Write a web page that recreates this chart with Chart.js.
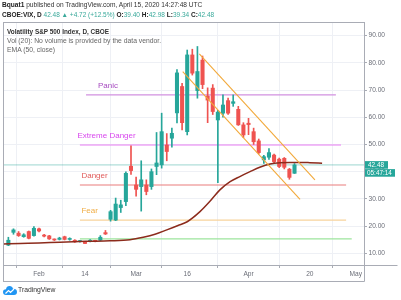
<!DOCTYPE html>
<html><head><meta charset="utf-8">
<script src="https://cdn.jsdelivr.net/npm/chart.js@4.4.0/dist/chart.umd.min.js"></script>
<style>
html,body{margin:0;padding:0;background:#fff;width:401px;height:300px;overflow:hidden;font-family:'Liberation Sans',Arial,sans-serif}
#wrap{position:absolute;left:0;top:0;width:401px;height:300px}
canvas{position:absolute;left:0;top:0}
.t{position:absolute;white-space:nowrap;line-height:1}
.g{color:#3aa99b}
b{color:#222}
</style></head><body>
<div id="wrap"><canvas id="c" width="401" height="300"></canvas>
<div class="t" style="left:2px;top:1.5px;font-size:6.6px;color:#333"><b>Bquat1</b> published on TradingView.com, April 15, 2020 14:27:48 UTC</div>
<div class="t" style="left:2px;top:12px;font-size:6.5px;color:#333"><b>CBOE:VIX, D</b> <span class="g">42.48 &#9650; +4.72 (+12.5%)</span> <b>O:</b><span class="g">39.40</span> <b>H:</b><span class="g">42.98</span> <b>L:</b><span class="g">39.34</span> <b>C:</b><span class="g">42.48</span></div>
<div class="t" style="left:7px;top:28.5px;font-size:6.4px;color:#333;font-weight:bold">Volatility S&amp;P 500 Index, D, CBOE</div>
<div class="t" style="left:7px;top:38px;font-size:6.8px;color:#666">Vol (20): No volume is provided by the data vendor.</div>
<div class="t" style="left:7px;top:47px;font-size:6.8px;color:#666">EMA (50, close)</div>
<svg style="position:absolute;left:3px;top:285px" width="14" height="10" viewBox="0 0 14 10"><path d="M3 10 Q0 10 0 7 Q0 4.5 3 4.3 Q3.5 1 6.5 1 Q9.3 1 10 3.8 Q14 3.8 14 7 Q14 10 11 10 Z" fill="#2196f3"/><path d="M2.5 8.5 L5.5 5.5 L7.5 7.5 L11 4" stroke="#fff" stroke-width="1.2" fill="none"/></svg>
<div class="t" style="left:18px;top:286.5px;font-size:6.8px;color:#333">TradingView</div>
</div>
<script>
// ---- data ----
const dayIndex = [-6,-5,-4,-3,-2,-1,0,1,2,3,4,5,6,7,8,9,10,11,12,13,14,15,16,17,18,19,20,21,22,23,24,25,26,27,28,29,30,31,32,33,34,35,36,37,38,39,40,41,42,43,44,45,46,47,48,49,50];
const opens  = [13.0,17.7,17.4,16.1,18.0,16.5,19.0,16.7,16.4,15.1,15.1,16.1,15.1,14.8,14.3,14.2,14.4,14.6,14.8,17.6,22.5,22.2,26.8,29.0,42.0,35.1,34.5,35.1,34.5,41.9,42.5,49.8,52.3,61.6,71.3,54.7,82.9,69.8,81.0,67.8,70.7,59.0,61.5,66.1,65.1,62.9,57.2,57.8,54.7,51.3,44.3,45.3,46.1,44.6,44.9,40.9,39.40];
const highs  = [15.9,19.0,18.0,17.2,18.2,19.8,19.3,17.0,16.6,15.3,15.9,16.3,15.7,15.0,14.8,14.4,15.0,14.8,16.5,18.4,25.8,30.3,29.5,39.9,49.5,38.0,44.0,37.0,41.0,54.4,61.5,54.0,56.0,77.5,72.5,84.7,85.0,86.0,82.5,70.8,72.0,62.5,68.2,67.0,68.2,64.0,58.0,59.6,56.0,52.0,46.0,48.5,46.5,45.0,45.2,41.2,42.98];
const lows   = [12.8,17.0,16.2,15.9,15.3,16.3,17.9,16.0,15.1,14.7,14.9,14.9,14.8,14.0,14.1,13.5,14.2,14.2,14.6,16.9,21.8,22.0,25.0,27.5,39.0,31.0,25.5,31.5,33.5,38.9,41.3,44.0,49.0,57.9,55.3,53.5,75.5,67.0,70.5,58.0,61.0,36.0,60.0,61.0,64.0,57.0,52.5,53.6,50.0,46.5,43.0,44.5,43.0,41.5,41.0,37.2,39.34];
const closes = [14.8,18.6,16.5,16.8,15.5,19.2,18.2,16.3,15.3,14.9,15.6,15.1,15.3,14.2,14.5,13.6,14.8,14.4,15.9,17.1,25.3,28.1,27.8,39.4,40.4,33.5,37.0,32.7,40.0,43.2,54.7,47.4,54.1,76.3,58.0,82.9,76.2,76.8,72.0,66.3,62.1,61.9,64.5,61.5,65.7,57.2,53.5,57.3,51.0,47.0,45.5,47.0,43.7,41.9,41.6,37.9,42.48];

const emaIdx = [-7,-3.7,0,4.1,9.2,13.9,17.8,20.4,22.7,25,27.2,29,31.5,33.5,35.4,37.4,39.3,41.3,43.2,45.2,47.2,49.1,51.1,53,55.4];
const emaVal = [13.4,13.6,13.8,14.1,14.4,14.6,15.0,15.9,17.0,18.6,20.2,21.6,25.3,29.2,33.3,36.3,38.2,40.0,41.6,42.8,43.3,43.4,43.4,43.3,43.1];

const channelUpperIdx = [31.37,54.0];
const channelUpperVal = [83.3,36.95];
const channelLowerIdx = [28.12,51.08];
const channelLowerVal = [76.8,29.85];

const levelNames = ['Panic','Extreme Danger','Danger','Fear',''];
const levelValues = [68.2,49.8,35.1,22.2,15.3];
const levelStart = [9.2,8.0,8.0,8.0,8.0];
const levelEnd = [58.1,59.1,60.1,60.1,61.2];

const timeTickIdx = [0,9,19,29,41,53,62];
const timeTickLabels = ['Feb','14','Mar','16','Apr','20','May'];
const priceTicks = [10,20,30,40,50,60,70,80,90];
const countdown = '05:47:14';

// ---- styles ----
const FONT = "'Liberation Sans', Arial, sans-serif";
const UP = '#26a69a', DOWN = '#ef5350';
const levelLineColors = ['#d291e0','#e77cf3','#ea7d7d','#f7d39c','#9de59d'];
const levelTextColors = ['#a74bc0','#d845ee','#e05a5a','#f0ad45',''];
const levelLabelDx = [12,-2.5,1.5,1.5,0];
const X_MIN = -7.05, X_MAX = 63.6, Y_MIN = 5.7, Y_MAX = 95.0;

const colors = dayIndex.map((_, i) => closes[i] >= opens[i] ? UP : DOWN);
const datasets = [];
datasets.push({type:'bar', data: dayIndex.map((x,i)=>({x, y:[lows[i], highs[i]]})), backgroundColor: colors, barThickness:1, grouped:false, order:3, borderWidth:0});
datasets.push({type:'bar', data: dayIndex.map((x,i)=>({x, y:[opens[i], closes[i]]})), backgroundColor: colors, barThickness:3.4, grouped:false, order:2, borderWidth:0, minBarLength:1});
levelValues.forEach((v,i)=>{
  datasets.push({type:'line', data:[{x:levelStart[i],y:v},{x:levelEnd[i],y:v}], borderColor: levelLineColors[i], borderWidth:1.2, pointRadius:0, order:10});
});
const last = closes.length-1;
datasets.push({type:'line', data:[{x:X_MIN,y:closes[last]},{x:X_MAX,y:closes[last]}], borderColor:'rgba(38,166,154,0.45)', borderWidth:1, pointRadius:0, order:9});
datasets.push({type:'line', data: emaIdx.map((x,i)=>({x,y:emaVal[i]})), borderColor:'#8c2b1c', borderWidth:1.5, pointRadius:0, cubicInterpolationMode:'monotone', order:1});
datasets.push({type:'line', data: channelUpperIdx.map((x,i)=>({x,y:channelUpperVal[i]})), borderColor:'#f2a93b', borderWidth:1.1, pointRadius:0, order:0});
datasets.push({type:'line', data: channelLowerIdx.map((x,i)=>({x,y:channelLowerVal[i]})), borderColor:'#f2a93b', borderWidth:1.1, pointRadius:0, order:0});

const framePlugin = {
  id:'frame',
  afterDatasetsDraw(chart){
    const {ctx, scales:{x,y}} = chart;
    ctx.save();
    ctx.font = '8px ' + FONT;
    ctx.textBaseline = 'middle';
    levelNames.forEach((n,i)=>{
      if(!n) return;
      ctx.fillStyle = levelTextColors[i];
      ctx.fillText(n, x.getPixelForValue(levelStart[i]) + levelLabelDx[i], y.getPixelForValue(levelValues[i]) - 9);
    });
    ctx.restore();
  },
  afterDraw(chart){
    const {ctx, chartArea:a, scales:{y}} = chart;
    ctx.save();
    ctx.strokeStyle = '#a9acb5';
    ctx.lineWidth = 1;
    const bottom2 = chart.height - 19;
    ctx.beginPath();
    ctx.moveTo(a.left+0.5, a.top+0.5); ctx.lineTo(a.right+0.5, a.top+0.5);
    ctx.moveTo(a.left+0.5, a.top); ctx.lineTo(a.left+0.5, bottom2+0.5);
    ctx.moveTo(a.right+0.5, a.top); ctx.lineTo(a.right+0.5, bottom2+0.5);
    ctx.moveTo(a.left, a.bottom+0.5); ctx.lineTo(chart.width-3.5, a.bottom+0.5);
    ctx.moveTo(a.left, bottom2+0.5); ctx.lineTo(a.right+0.5, bottom2+0.5);
    ctx.stroke();
    const py = y.getPixelForValue(closes[last]);
    ctx.fillStyle = UP;
    ctx.fillRect(a.right+1, py-3.8, 23, 7.6);
    ctx.fillRect(a.right+1, py+4.2, 30, 7.6);
    ctx.fillStyle = '#fff';
    ctx.font = '6.4px ' + FONT;
    ctx.textBaseline = 'middle';
    ctx.fillText(closes[last].toFixed(2), a.right+4, py+0.3);
    ctx.fillText(countdown, a.right+3, py+8.3);
    ctx.restore();
  }
};

new Chart(document.getElementById('c'), {
  type:'bar',
  data:{datasets},
  options:{
    responsive:false, animation:false, devicePixelRatio:1,
    layout:{padding:{left:3,top:22,right:0,bottom:19}},
    plugins:{legend:{display:false}, tooltip:{enabled:false}},
    scales:{
      x:{type:'linear', min:X_MIN, max:X_MAX, offset:false,
        afterBuildTicks: s => { s.ticks = timeTickIdx.map(v=>({value:v})); },
        afterFit: s => { s.height = 16; },
        ticks:{autoSkip:false, maxRotation:0, font:{size:6.6, family:FONT}, color:'#6b6e78', padding:2,
          callback:(v,i)=>timeTickLabels[i]},
        grid:{color:'#eef0f5', tickColor:'#a9acb5', tickLength:3},
        border:{display:false}
      },
      y:{position:'right', min:Y_MIN, max:Y_MAX,
        afterBuildTicks: s => { s.ticks = priceTicks.map(v=>({value:v})); },
        afterFit: s => { s.width = 37; },
        ticks:{font:{size:6.6, family:FONT}, color:'#6b6e78', padding:1.5, callback:v=>Number(v).toFixed(2)},
        grid:{color:'#eef0f5', tickColor:'#a9acb5', tickLength:3},
        border:{display:false}
      }
    }
  },
  plugins:[framePlugin]
});
</script>
</body></html>
